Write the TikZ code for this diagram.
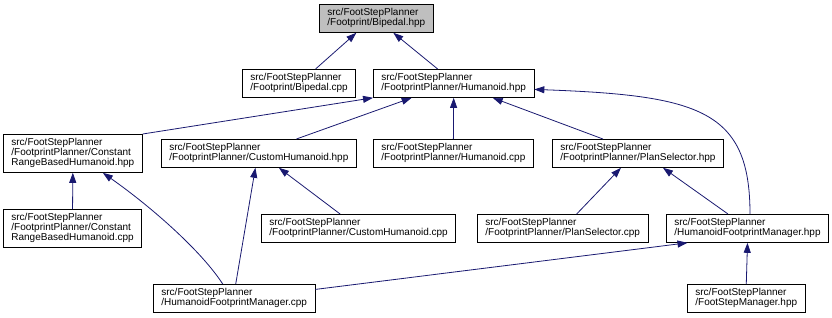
\documentclass[tikz,border=0pt]{standalone}
\usepackage{fontspec}
\setmainfont{Liberation Sans}
\usetikzlibrary{arrows.meta}
\definecolor{inclblue}{RGB}{25,25,112}
\tikzstyle{file}=[draw=black, line width=0.8pt, anchor=north west, align=left,
                  inner xsep=8pt, inner ysep=0pt, minimum height=28pt,
                  font=\fontsize{10}{10}\selectfont]
\tikzstyle{longfile}=[file, minimum height=38pt]
\tikzstyle{thisfile}=[file, fill=black!25]
\tikzstyle{incl}=[draw=inclblue, line width=0.8pt, -{Triangle[length=10pt, width=7pt]}]
\tikzstyle{inclgraph}=[x=1pt, y=-1pt,
                       % Fixed frame, the graph is laid out in pixels.
                       execute at begin picture={\useasboundingbox (0, 0) rectangle (832, 317);}]

\begin{document}
\begin{tikzpicture}[inclgraph]
        \node[thisfile] (Bh) at (319, 4) {src/FootStepPlanner\\/Footprint/Bipedal.hpp};
        \node[file] (Bc) at (242, 69) {src/FootStepPlanner\\/Footprint/Bipedal.cpp};
        \node[file] (Hh) at (373, 69) {src/FootStepPlanner\\/FootprintPlanner/Humanoid.hpp};
        \node[longfile] (CRh) at (3, 134) {src/FootStepPlanner\\/FootprintPlanner/Constant\\RangeBasedHumanoid.hpp};
        \node[file] (CHh) at (161, 139) {src/FootStepPlanner\\/FootprintPlanner/CustomHumanoid.hpp};
        \node[file] (Hc) at (373, 139) {src/FootStepPlanner\\/FootprintPlanner/Humanoid.cpp};
        \node[file] (PSh) at (552, 139) {src/FootStepPlanner\\/FootprintPlanner/PlanSelector.hpp};
        \node[longfile] (CRc) at (3, 209) {src/FootStepPlanner\\/FootprintPlanner/Constant\\RangeBasedHumanoid.cpp};
        \node[file] (CHc) at (261, 214) {src/FootStepPlanner\\/FootprintPlanner/CustomHumanoid.cpp};
        \node[file] (PSc) at (477, 214) {src/FootStepPlanner\\/FootprintPlanner/PlanSelector.cpp};
        \node[file] (HFMh) at (666, 214) {src/FootStepPlanner\\/HumanoidFootprintManager.hpp};
        \node[file] (HFMc) at (153, 284) {src/FootStepPlanner\\/HumanoidFootprintManager.cpp};
        \node[file] (FSMh) at (687, 284) {src/FootStepPlanner\\/FootStepManager.hpp};
        % includes of Bipedal.hpp
        \draw[incl] ([xshift=16.5pt]Bc.north) -- ([xshift=-20pt]Bh.south);
        \draw[incl] ([xshift=-16pt]Hh.north) -- ([xshift=17pt]Bh.south);
        % includes of Humanoid.hpp
        \draw[incl] (CRh.north east) -- (Hh.south west);
        \draw[incl] ([xshift=37.5pt]CHh.north) -- ([xshift=-42pt]Hh.south);
        \draw[incl] (Hc.north) -- (Hh.south);
        \draw[incl] ([xshift=-35pt]PSh.north) -- ([xshift=39pt]Hh.south);
        \draw[incl] ([xshift=2.5pt]HFMh.north) .. controls +(0, -104) and +(165, 6) .. ([yshift=-6pt]Hh.east);
        % second level
        \draw[incl] (CRc.north) -- (CRh.south);
        \draw[incl] ([xshift=-11.5pt]HFMc.north) .. controls +(-22, -34) and +(47, 33) .. ([xshift=30pt]CRh.south);
        \draw[incl] ([xshift=1.5pt]HFMc.north) -- ([xshift=-3.5pt]CHh.south);
        \draw[incl] ([xshift=-18.5pt]CHc.north) -- ([xshift=20pt]CHh.south);
        \draw[incl] ([xshift=14pt]PSc.north) -- ([xshift=-17pt]PSh.south);
        \draw[incl] ([xshift=-19.5pt]HFMh.north) -- ([xshift=25pt]PSh.south);
        \draw[incl] ([yshift=9pt]HFMc.east) -- ([xshift=-60pt]HFMh.south);
        \draw[incl] (FSMh.north) -- (HFMh.south);
    \end{tikzpicture}
\end{document}
